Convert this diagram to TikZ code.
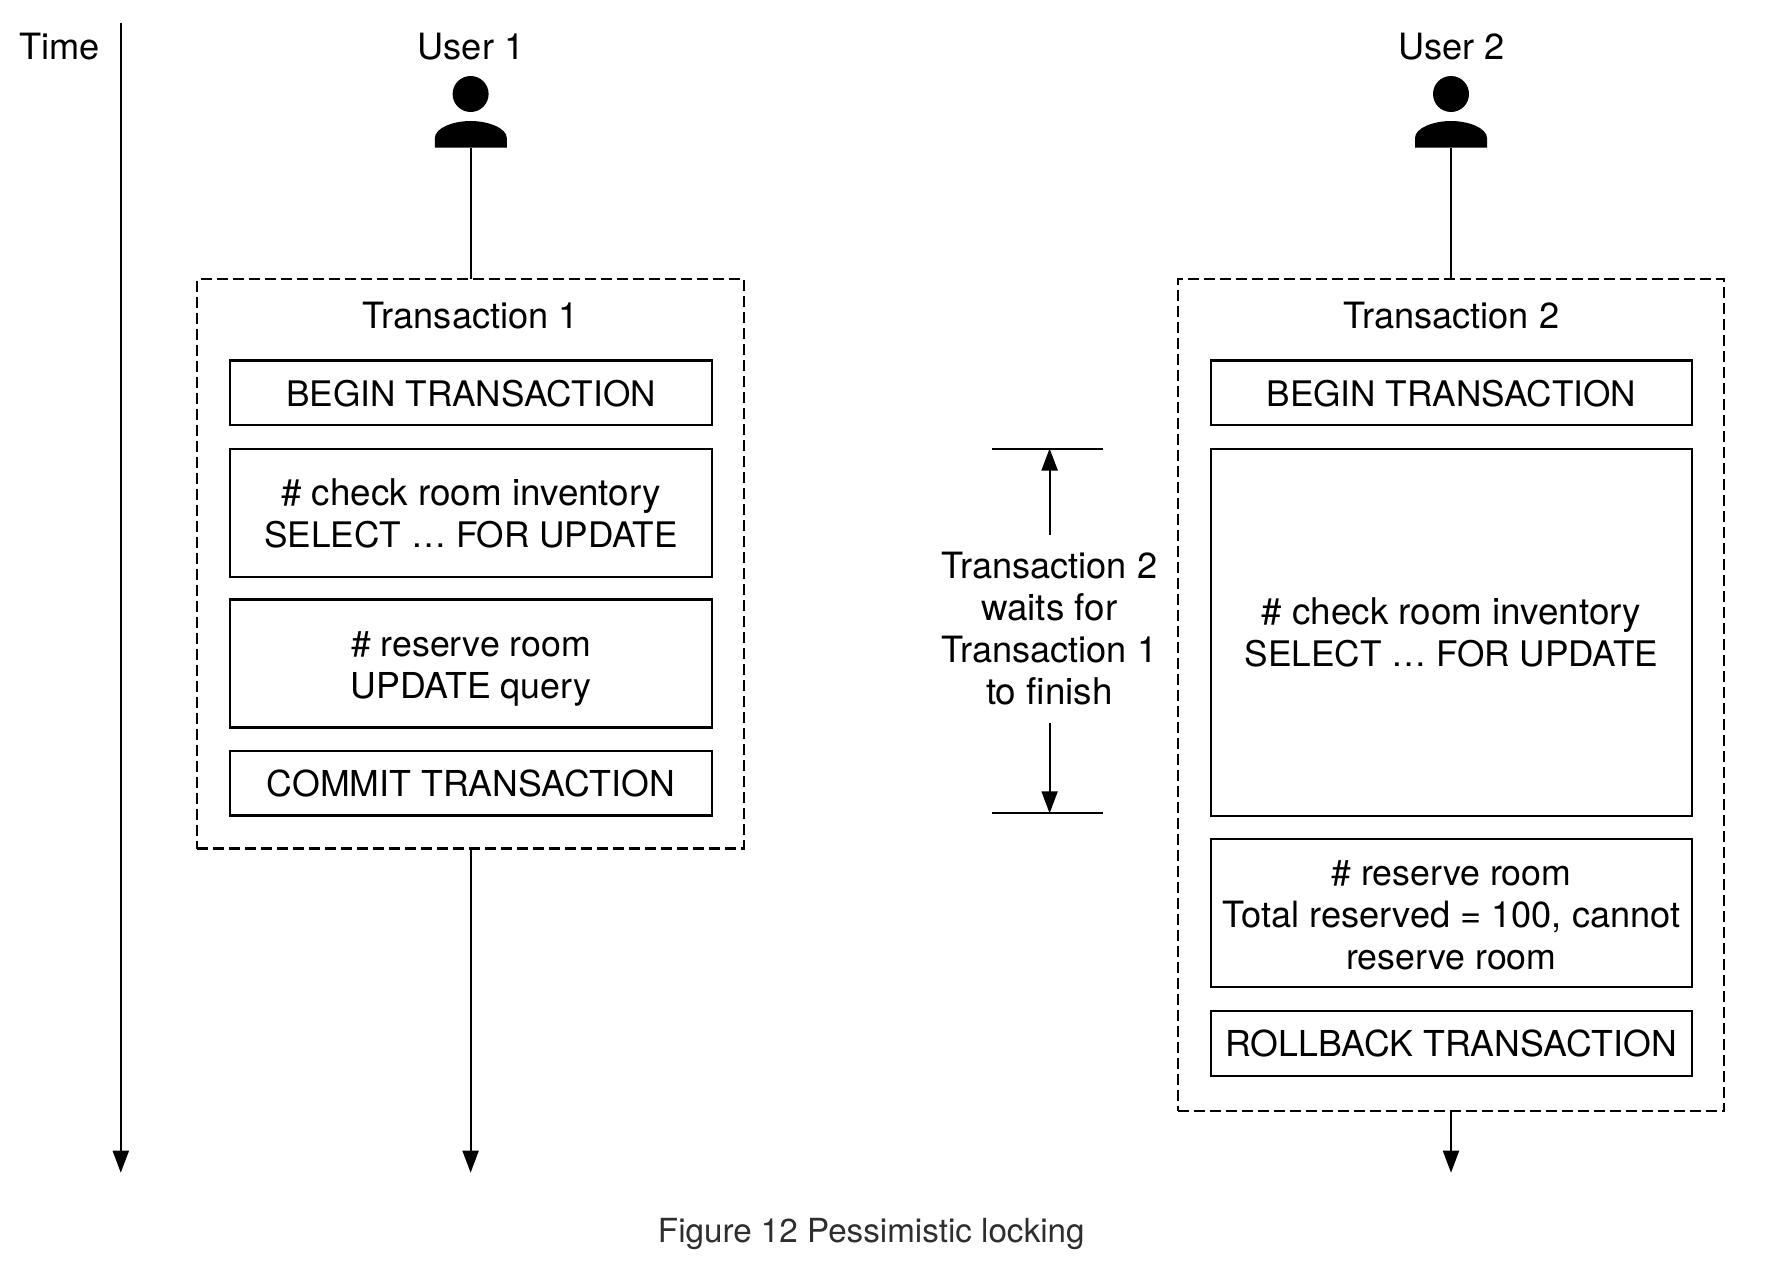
\documentclass[tikz,border=0pt]{standalone}
\usepackage{fontspec}
\setmainfont{TeX Gyre Heros}
\usetikzlibrary{arrows.meta}
\newcommand{\mixedA}{\fontsize{36.2}{42}\selectfont}
\newcommand{\mixedB}{\fontsize{36.8}{42}\selectfont}
\newcommand{\mixedC}{\fontsize{35.7}{42}\selectfont}
\newcommand{\raiseroom}[1]{\rule{0pt}{#1pt}}
\tikzset{
  lbl/.style={inner sep=0pt,outer sep=0pt,align=center,font=\fontsize{35.2}{42}\selectfont},
  stepbox/.style={lbl,draw=black,line width=2.2pt,minimum width=481.6pt,anchor=center},
  txbox/.style={draw=black,line width=2.2pt,dash pattern=on 11pt off 5pt,inner sep=0pt,outer sep=0pt,minimum width=546.5pt,anchor=center},
  conn/.style={draw=black,line width=2pt},
  arr/.style={conn,-{Triangle[length=22pt,width=16pt]}},
  headdot/.style={circle,fill=black,inner sep=0pt,outer sep=0pt,minimum size=36pt}
}
\begin{document}
\begin{tikzpicture}[x=1pt,y=-1pt]
\useasboundingbox (0,0) rectangle (1784,1280);
\fill[white] (0,0) rectangle (1784,1280);
% time
\node[lbl] (timelbl) at (59.3,46.5) {{\mixedA Time}};
\coordinate (ttop) at (120.8,22.5);
\coordinate (tbot) at (120.8,1172.7);
\draw[arr] (ttop) -- (tbot);
% user 1
\node[lbl] (u1lbl) at (471,46.5) {{\mixedA User 1}};
\node[headdot] (u1head) at (470.6,94) {};
\fill (434.9,147.7) -- (434.9,138) .. controls (434.9,128) and (453,121) .. (470.6,121) .. controls (488,121) and (506.8,128) .. (506.8,138) -- (506.8,147.7) -- cycle;
\coordinate (u1foot) at (470.6,147.7);
\node[txbox,minimum height=569.5pt] (t1) at (470.6,563.8) {};
\node[lbl] (t1lbl) at (470.9,315.2) {{\mixedA Transaction 1}};
\node[stepbox,minimum height=64.6pt] (a1) at (471,392.8) {\raiseroom{28}BEGIN TRANSACTION};
\node[stepbox,minimum height=128pt] (a2) at (471,512.8) {\raiseroom{28}{\mixedB\# check room inventory}\\SELECT … FOR UPDATE};
\node[stepbox,minimum height=128pt] (a3) at (471,663.5) {\raiseroom{35}{\mixedC\# reserve room}\\{\mixedC UPDATE query}};
\node[stepbox,minimum height=64.5pt] (a4) at (471,783.3) {\raiseroom{28}{\mixedC COMMIT TRANSACTION}};
\coordinate (u1end) at (470.6,1172.7);
\draw[conn] (u1foot) -- (t1.north);
\draw[arr] (t1.south) -- (u1end);
% user 2
\node[lbl] (u2lbl) at (1451.4,46.5) {{\mixedA User 2}};
\node[headdot] (u2head) at (1451,94) {};
\fill (1415,147.7) -- (1415,138) .. controls (1415,128) and (1433.4,121) .. (1451,121) .. controls (1468.4,121) and (1487,128) .. (1487,138) -- (1487,147.7) -- cycle;
\coordinate (u2foot) at (1451,147.7);
\node[txbox,minimum height=832.3pt] (t2) at (1451,695.15) {};
\node[lbl] (t2lbl) at (1451.2,315.2) {{\mixedA Transaction 2}};
\node[stepbox,minimum height=64.6pt] (b1) at (1451.4,392.8) {\raiseroom{28}BEGIN TRANSACTION};
\node[stepbox,minimum height=367pt] (b2) at (1451.4,632.2) {\raiseroom{28}{\mixedB\# check room inventory}\\SELECT … FOR UPDATE};
\node[stepbox,minimum height=148pt] (b3) at (1451.4,913.3) {\raiseroom{28}{\mixedC\# reserve room}\\{\mixedA Total reserved = 100, cannot}\\{\mixedC reserve room}};
\node[stepbox,minimum height=65pt] (b4) at (1451.4,1043.2) {{\mixedC ROLLBACK TRANSACTION}};
\coordinate (u2end) at (1451,1172.7);
\draw[conn] (u2foot) -- (t2.north);
\draw[arr] (t2.south) -- (u2end);
% wait bracket
\coordinate (wtl) at (991.6,448.5);
\coordinate (wtr) at (1103,448.5);
\coordinate (wbl) at (991.6,813.3);
\coordinate (wbr) at (1103,813.3);
\coordinate (wtm) at (1049.6,448.5);
\coordinate (wbm) at (1049.6,813.3);
\draw[conn] (wtl) -- (wtr);
\draw[conn] (wbl) -- (wbr);
\node[lbl] (wait) at (1049.3,629) {{\mixedA Transaction 2}\\{\mixedB waits for}\\{\mixedA Transaction 1}\\{\mixedB to finish}};
\coordinate (wa1) at (1049.6,534.7);
\coordinate (wa2) at (1049.6,722.5);
\draw[arr] (wa1) -- (wtm);
\draw[arr] (wa2) -- (wbm);
% caption
\node[inner sep=0pt,text=black!82,font=\fontsize{33.2}{40}\selectfont] (cap) at (871.3,1233.5) {Figure 12 Pessimistic locking};
\end{tikzpicture}
\end{document}
